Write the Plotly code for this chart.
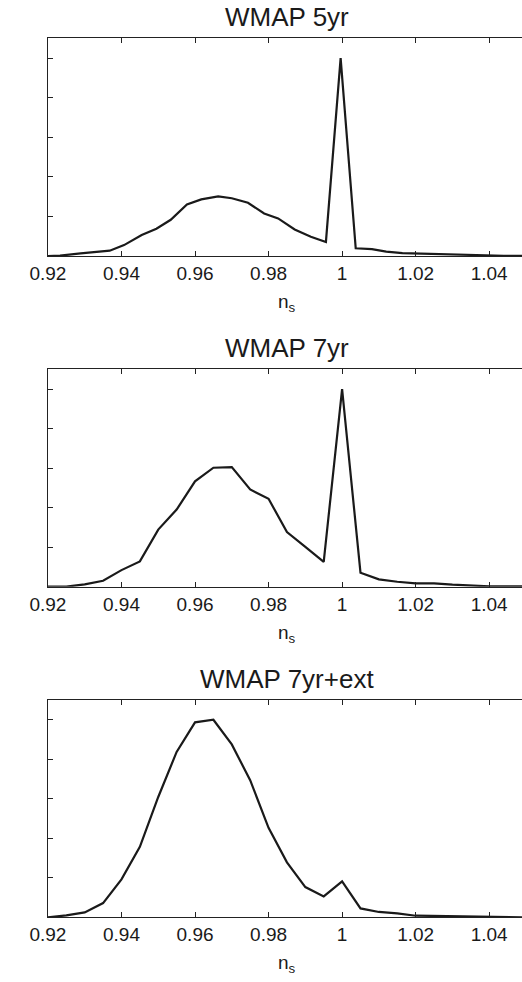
import plotly.graph_objects as go

W, H = 522, 982

titles = ["WMAP 5yr", "WMAP 7yr", "WMAP 7yr+ext"]
x_ticks = [0.92, 0.94, 0.96, 0.98, 1.0, 1.02, 1.04]
x_tick_labels = ["0.92", "0.94", "0.96", "0.98", "1", "1.02", "1.04"]
y_ticks = [0, 0.2, 0.4, 0.6, 0.8, 1.0]

ns_5yr = [0.920, 0.9233, 0.9289, 0.9330, 0.9368, 0.9407, 0.9455, 0.9495, 0.9534,
          0.9578, 0.9617, 0.9663, 0.9700, 0.9744, 0.9788, 0.9826, 0.9871, 0.9915,
          0.9956, 0.9996, 1.0037, 1.0081, 1.0120, 1.0164, 1.0203, 1.0247, 1.0291,
          1.0343, 1.0396, 1.0440, 1.0500]
p_5yr = [0.0, 0.002, 0.013, 0.019, 0.027, 0.055, 0.106, 0.138, 0.183,
         0.260, 0.286, 0.301, 0.292, 0.269, 0.215, 0.190, 0.134, 0.097,
         0.071, 1.000, 0.039, 0.035, 0.022, 0.015, 0.013, 0.010, 0.005,
         0.003, 0.001, 0.001, 0.0]

ns_7yr = [0.920, 0.925, 0.930, 0.935, 0.940, 0.945, 0.950, 0.955, 0.960, 0.965,
          0.970, 0.975, 0.980, 0.985, 0.990, 0.995, 1.000, 1.005, 1.010, 1.015,
          1.020, 1.025, 1.030, 1.035, 1.040, 1.045, 1.050]
p_7yr = [0.0, 0.0, 0.012, 0.030, 0.084, 0.128, 0.289, 0.390, 0.533, 0.602,
         0.605, 0.492, 0.445, 0.276, 0.202, 0.126, 1.000, 0.071, 0.037, 0.025,
         0.017, 0.017, 0.010, 0.005, 0.002, 0.002, 0.001]

ns_7yr_ext = [0.920, 0.925, 0.930, 0.935, 0.940, 0.945, 0.950, 0.955, 0.960, 0.965,
              0.970, 0.975, 0.980, 0.985, 0.990, 0.995, 1.000, 1.005, 1.010, 1.015,
              1.020, 1.025, 1.030, 1.035, 1.040, 1.045, 1.050]
p_7yr_ext = [0.0, 0.010, 0.025, 0.072, 0.192, 0.357, 0.609, 0.837, 0.987, 1.000,
             0.875, 0.694, 0.453, 0.278, 0.153, 0.106, 0.182, 0.045, 0.027, 0.020,
             0.008, 0.007, 0.005, 0.002, 0.002, 0.0, 0.0]

series = [(ns_5yr, p_5yr), (ns_7yr, p_7yr), (ns_7yr_ext, p_7yr_ext)]

# pixel geometry of each panel (top, bottom) of axes box
panels_px = [(38.3, 256.0), (369.3, 586.7), (700.0, 917.3)]
x_left_px = 31.0
x_px_per_002 = 76.17
x_max = 0.92 + 0.02 * (W - x_left_px) / x_px_per_002

fig = go.Figure()
ink = "#1a1a1a"
axis_col = "#222222"
font_family = "Liberation Sans, Arial, Helvetica, sans-serif"

for i, ((xs, ys), (top, bot)) in enumerate(zip(series, panels_px)):
    k = "" if i == 0 else str(i + 1)
    fig.add_trace(go.Scatter(x=xs, y=ys, mode="lines",
                             line=dict(color=ink, width=2.2),
                             xaxis="x" + k, yaxis="y" + k,
                             showlegend=False, hoverinfo="skip"))
    fig.layout["xaxis" + k] = dict(
        domain=[x_left_px / W, 1.0], range=[0.92, x_max], anchor="y" + k,
        tickvals=x_ticks, ticktext=x_tick_labels, ticks="inside", ticklen=5,
        tickcolor=axis_col, tickwidth=1, showline=True, linecolor=axis_col,
        linewidth=1.3, mirror="ticks", showgrid=False, zeroline=False,
        tickfont=dict(size=19, color=ink, family=font_family),
    )
    fig.layout["yaxis" + k] = dict(
        domain=[1 - bot / H, 1 - top / H], range=[0, 1.1], anchor="x" + k,
        tickvals=y_ticks, ticks="inside", ticklen=5, tickcolor=axis_col,
        tickwidth=1, showline=True, linecolor=axis_col, linewidth=1.3,
        mirror=False, showgrid=False, zeroline=False, showticklabels=False,
    )
    cx = (x_left_px + 526) / 2 / W
    fig.add_annotation(text=titles[i], xref="paper", yref="paper",
                       x=cx, y=1 - (top - 21.5) / H, xanchor="center",
                       yanchor="middle", showarrow=False,
                       font=dict(size=26, color=ink, family=font_family))
    fig.add_annotation(text="n<sub>s</sub>", xref="paper", yref="paper",
                       x=cx, y=1 - (bot + 47) / H, xanchor="center",
                       yanchor="middle", showarrow=False,
                       font=dict(size=19, color=ink, family=font_family))

fig.update_layout(width=W, height=H, margin=dict(l=0, r=0, t=0, b=0),
                  paper_bgcolor="white", plot_bgcolor="white")

fig.write_html("out.html", config={"displayModeBar": False},
               post_script="document.body.style.margin='0';document.body.style.overflow='hidden';")
